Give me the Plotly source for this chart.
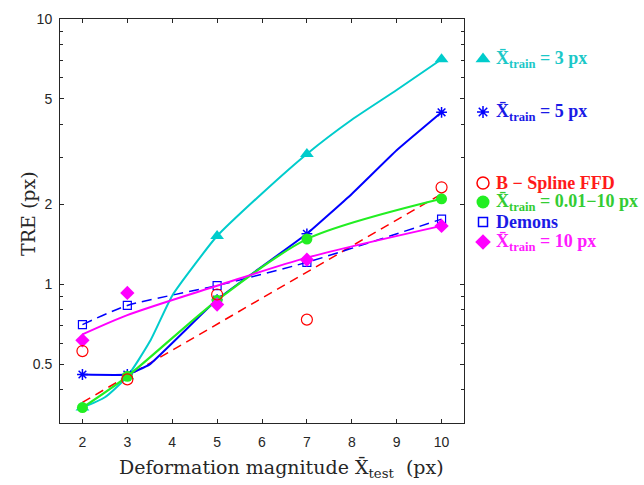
import plotly.graph_objects as go

# ---------------- data ----------------
x_marks = [2, 3, 5, 7, 10]

# Xtrain = 3 px (cyan)
cyan_marks = [0.343, 0.45, 1.52, 3.10, 7.05]
cyan_curve_x = [2, 2.5, 3, 3.5, 4, 4.5, 5, 6, 7, 8, 9, 10]
cyan_curve_y = [0.343, 0.375, 0.45, 0.608, 0.906, 1.186, 1.52, 2.2, 3.10, 4.17, 5.4, 7.05]

# Xtrain = 5 px (blue solid)
blue_marks = [0.457, 0.457, 0.876, 1.55, 4.45]
blue_curve_x = [2, 3, 3.5, 5, 7, 8, 9, 10]
blue_curve_y = [0.457, 0.457, 0.499, 0.876, 1.55, 2.19, 3.2, 4.45]

# Xtrain = 0.01-10 px (green)
green_marks = [0.343, 0.45, 0.87, 1.48, 2.10]

# B-Spline FFD (red)
red_marks = [0.56, 0.438, 0.915, 0.736, 2.32]
red_fit_x = [2, 10]
red_fit_y = [0.359, 2.19]

# Demons (blue dashed)
demons_marks = [0.705, 0.832, 0.989, 1.21, 1.76]

# Xtrain = 10 px (magenta)
mag_marks = [0.615, 0.928, 0.839, 1.238, 1.66]
mag_fit_y = [0.647, 0.765, 0.987, 1.26, 1.66]

y_major = [0.5, 1, 2, 5, 10]
y_major_text = ["0.5", "1", "2", "5", "10"]
y_minor = [0.3, 0.4, 0.6, 0.7, 0.8, 0.9, 3, 4, 6, 7, 8, 9]
x_ticks = [2, 3, 4, 5, 6, 7, 8, 9, 10]

# legend entries: (symbol, color, text, text colour)
legend_items = [
    ("triangle-up", "#00CCCC", "X\u0304<sub>train</sub> = 3 px", "#1CC8C8"),
    ("asterisk-open", "#0000FF", "X\u0304<sub>train</sub> = 5 px", "#1A1AE6"),
    ("circle-open", "#FF0000", "B \u2212 Spline FFD", "#FF1A1A"),
    ("circle", "#22EE22", "X\u0304<sub>train</sub> = 0.01\u221210 px", "#33CC33"),
    ("square-open", "#0000FF", "Demons", "#1A1AE6"),
    ("diamond", "#FF00FF", "X\u0304<sub>train</sub> = 10 px", "#FF1AFF"),
]
legend_y_px = [59, 112, 183, 202, 222, 242]

C_CYAN = "#00CCCC"
C_BLUE = "#0000FF"
C_GREEN = "#22EE22"
C_RED = "#FF0000"
C_MAG = "#FF00FF"

W, H = 644, 485

fig = go.Figure()

# red dashed fit
fig.add_trace(go.Scatter(x=red_fit_x, y=red_fit_y, mode="lines",
                         line=dict(color=C_RED, width=1.5, dash="9px,6px")))
# demons dashed
fig.add_trace(go.Scatter(x=x_marks, y=demons_marks, mode="lines+markers",
                         line=dict(color=C_BLUE, width=1.5, dash="10px,6px", shape="spline", smoothing=0.6),
                         marker=dict(symbol="square-open", size=8, color=C_BLUE, line=dict(width=1.2))))
# cyan curve
fig.add_trace(go.Scatter(x=cyan_curve_x, y=cyan_curve_y, mode="lines",
                         line=dict(color=C_CYAN, width=2, shape="spline", smoothing=0.6)))
fig.add_trace(go.Scatter(x=x_marks, y=cyan_marks, mode="markers",
                         marker=dict(symbol="triangle-up", size=12, color=C_CYAN)))
# blue solid
fig.add_trace(go.Scatter(x=blue_curve_x, y=blue_curve_y, mode="lines",
                         line=dict(color=C_BLUE, width=2, shape="spline", smoothing=0.3)))
fig.add_trace(go.Scatter(x=x_marks, y=blue_marks, mode="markers",
                         marker=dict(symbol="asterisk-open", size=9, color=C_BLUE, line=dict(width=1.5, color=C_BLUE))))
# green
fig.add_trace(go.Scatter(x=x_marks, y=green_marks, mode="lines+markers",
                         line=dict(color=C_GREEN, width=2.2, shape="spline", smoothing=0.8),
                         marker=dict(symbol="circle", size=11, color=C_GREEN)))
# magenta
fig.add_trace(go.Scatter(x=x_marks, y=mag_fit_y, mode="lines",
                         line=dict(color=C_MAG, width=2, shape="spline", smoothing=0.8)))
fig.add_trace(go.Scatter(x=x_marks, y=mag_marks, mode="markers",
                         marker=dict(symbol="diamond", size=11, color=C_MAG)))
# red circles
fig.add_trace(go.Scatter(x=x_marks, y=red_marks, mode="markers",
                         marker=dict(symbol="circle-open", size=11, color=C_RED, line=dict(width=1.2))))

# legend markers on a pixel-coordinate helper axis covering the whole figure
for (sym, col, txt, tcol), yp in zip(legend_items, legend_y_px):
    lw = 1.5 if "open" in sym else 0
    sz = {"triangle-up": 13, "asterisk-open": 10, "circle-open": 12, "circle": 13,
          "square-open": 9, "diamond": 12}[sym]
    fig.add_trace(go.Scatter(x=[483], y=[yp], mode="markers", xaxis="x2", yaxis="y2",
                             marker=dict(symbol=sym, size=sz, color=col, line=dict(width=lw, color=col)),
                             cliponaxis=False))
    fig.add_annotation(x=494 / W, y=1 - yp / H, xref="paper", yref="paper", text="<b>" + txt + "</b>",
                       showarrow=False, xanchor="left", yanchor="middle",
                       font=dict(family="Liberation Serif", size=18, color=tcol))

axis_common = dict(showline=True, linecolor="#262626", linewidth=1, mirror="ticks",
                   ticks="inside", ticklen=4, tickcolor="#262626", showgrid=False, zeroline=False,
                   tickfont=dict(family="Liberation Sans", size=14, color="#262626"))

fig.update_layout(
    width=W, height=H,
    margin=dict(l=0, r=0, t=0, b=0),
    paper_bgcolor="white", plot_bgcolor="rgba(0,0,0,0)",
    showlegend=False,
    xaxis=dict(domain=[60/W, 464/W], range=[1.5, 10.5], tickvals=x_ticks,
               ticklabelstandoff=6, automargin=False, **axis_common),
    yaxis=dict(domain=[1-423/H, 1-19/H], type="log", range=[-0.5229, 1],
               tickvals=y_major, ticktext=y_major_text, ticklabelstandoff=4, automargin=False,
               minor=dict(tickvals=y_minor, ticks="inside", ticklen=3, tickcolor="#262626"),
               **axis_common),
    xaxis2=dict(domain=[0, 1], range=[0, W], visible=False, fixedrange=True, anchor="y2"),
    yaxis2=dict(domain=[0, 1], range=[H, 0], visible=False, fixedrange=True, anchor="x2"),
)

fig.add_annotation(x=28 / W, y=1 - 214 / H, xref="paper", yref="paper", text="TRE (px)", textangle=-90,
                   xanchor="center", yanchor="middle",
                   showarrow=False, font=dict(family="DejaVu Serif", size=19, color="#262626"))
fig.add_annotation(x=281 / W, y=1 - 468 / H, xref="paper", yref="paper",
                   xanchor="center", yanchor="middle",
                   text="Deformation magnitude X\u0304<sub>test</sub>  (px)",
                   showarrow=False, font=dict(family="DejaVu Serif", size=19, color="#262626"))

fig.write_html("out.html")
